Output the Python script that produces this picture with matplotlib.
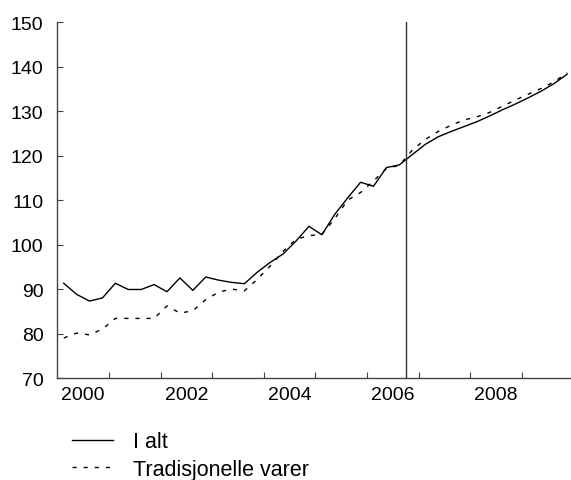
import matplotlib
matplotlib.use("Agg")
import matplotlib.pyplot as plt
import numpy as np

plt.rcParams['font.family'] = ['Liberation Sans', 'DejaVu Sans']

# Quarterly observations 2000Q1 - 2009Q4 (quarter centres)
years = list(range(2000, 2010))
quarters = [1, 2, 3, 4]

i_alt = [91.3, 88.8, 87.3, 88.0,
         91.3, 89.9, 89.9, 91.0,
         89.4, 92.5, 89.7, 92.7,
         92.0, 91.5, 91.2, 93.8,
         96.0, 97.9, 100.8, 104.1,
         102.2, 106.8, 110.5, 114.0,
         113.1, 117.3, 117.9, 120.2,
         122.5, 124.2, 125.4, 126.5,
         127.6, 128.9, 130.3, 131.6,
         133.0, 134.5, 136.2, 138.3]

tradisjonelle = [79.0, 80.1, 79.7, 81.0,
                 83.4, 83.4, 83.4, 83.4,
                 86.2, 84.6, 85.1, 87.6,
                 89.3, 90.0, 89.6, 92.2,
                 95.2, 98.5, 101.2, 102.0,
                 102.3, 105.8, 110.0, 111.7,
                 114.3, 117.1, 117.8, 121.2,
                 123.6, 125.4, 126.8, 128.0,
                 128.7, 129.7, 131.1, 132.5,
                 133.8, 135.1, 136.6, 138.6]

forecast_start = 2006.75
year_labels = ['2000', '2002', '2004', '2006', '2008']
y_ticks = [70, 80, 90, 100, 110, 120, 130, 140, 150]

x = np.array([y + (q - 0.5) / 4 for y in years for q in quarters])

fig = plt.figure(figsize=(5.71, 4.81), dpi=100)
ax = fig.add_axes([0.1003, 0.212, 0.8997, 0.740])

ax.plot(x, i_alt, color='black', lw=1.0, label='I alt')
ax.plot(x, tradisjonelle, color='black', lw=1.0, linestyle=(0, (3, 5)),
        label='Tradisjonelle varer')
ax.axvline(forecast_start, color='#333333', lw=1.0)

ax.set_xlim(2000, 2009.95)
ax.set_ylim(70, 150)
ax.set_yticks(y_ticks)
ax.set_yticklabels([str(v) for v in y_ticks])

ax.set_xticks(list(range(2001, 2010)))
ax.set_xticklabels([])
ax.set_xticks([int(l) + 0.5 for l in year_labels], minor=True)
ax.set_xticklabels(year_labels, minor=True)
ax.tick_params(axis='x', which='minor', length=0, labelsize=14, pad=6)
ax.tick_params(axis='x', which='major', direction='in', length=4, width=0.8, color='#444444')
ax.tick_params(axis='y', direction='in', length=4, width=0.8, labelsize=14, pad=10, color='#444444')

for s in ['top', 'right']:
    ax.spines[s].set_visible(False)
for s in ['left', 'bottom']:
    ax.spines[s].set_color('#444444')
    ax.spines[s].set_linewidth(1.0)

fig.legend(loc='upper left', bbox_to_anchor=(0.126, 0.101), frameon=False,
           fontsize=15.5, handlelength=1.9, handletextpad=0.95, labelspacing=0.3,
           borderaxespad=0, borderpad=0)

fig.savefig('out.png', dpi=100)
